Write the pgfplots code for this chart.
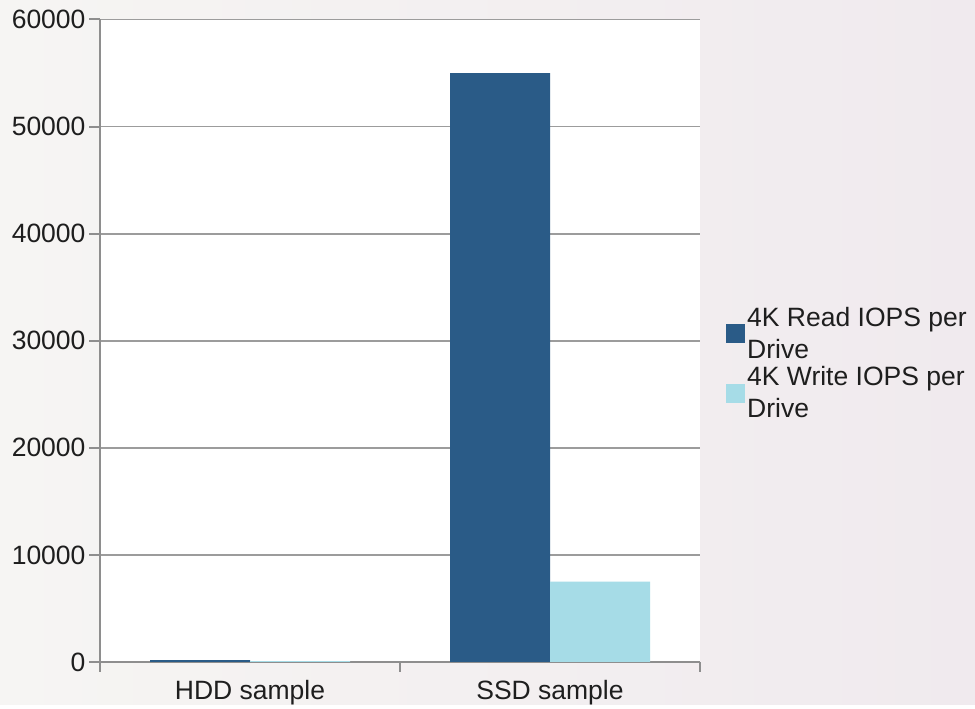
\documentclass[border=0pt]{standalone}
\usepackage{fontspec}
\setmainfont{Liberation Sans}
\usepackage{pgfplots}
\pgfplotsset{compat=1.18}
\definecolor{readc}{HTML}{2A5B87}
\definecolor{writec}{HTML}{A6DCE7}
\definecolor{gridc}{HTML}{9C9C9C}
\definecolor{axc}{HTML}{8E8E8E}
\definecolor{bgl}{HTML}{F6F5F3}
\definecolor{bgr}{HTML}{F0EAEE}
\definecolor{txt}{HTML}{1E1E1E}
\begin{document}
\begin{tikzpicture}[x=1pt,y=1pt]
\shade[left color=bgl, right color=bgr] (0,0) rectangle (975,705);
\begin{axis}[
  at={(100pt,43pt)}, anchor=south west, scale only axis,
  width=600pt, height=642.5pt,
  xmin=-0.5, xmax=1.5, ymin=0, ymax=60000,
  axis background/.style={fill=white},
  axis x line*=bottom, axis y line*=left,
  axis line style={axc, line width=2pt},
  ytick={0,10000,20000,30000,40000,50000,60000},
  scaled y ticks=false,
  yticklabel style={/pgf/number format/.cd, fixed, 1000 sep={}},
  /pgf/number format/assume math mode=true,
  ymajorgrids, grid style={gridc, line width=1.8pt},
  xtick={0,1}, xticklabels={HDD sample, SSD sample},
  minor xtick={-0.5,0.5,1.5},
  major x tick style={draw=none},
  minor x tick style={axc, line width=2pt},
  major y tick style={axc, line width=2pt},
  tick align=outside, major tick length=11pt, minor tick length=10pt,
  ticklabel style={font=\fontsize{26.5}{31}\selectfont, text=txt},
  xticklabel style={yshift=-4pt},
  ybar=0pt, bar width=100pt,
  legend style={at={(1,0.465)}, anchor=west, xshift=26pt, draw=none, fill=none,
    inner sep=0pt, font=\fontsize{26.5}{32}\selectfont, text=txt,
    cells={align=left}, row sep=3pt},
  legend cell align=left,
  legend image code/.code={\fill[#1] (0pt,-9.5pt) rectangle (19pt,9.5pt);},
]
\addplot[fill=readc, draw=none] coordinates {(0,180) (1,55000)};
\addlegendentry{4K Read IOPS per\\Drive}
\addplot[fill=writec, draw=none] coordinates {(0,90) (1,7500)};
\addlegendentry{4K Write IOPS per\\Drive}
\end{axis}
\end{tikzpicture}
\end{document}
